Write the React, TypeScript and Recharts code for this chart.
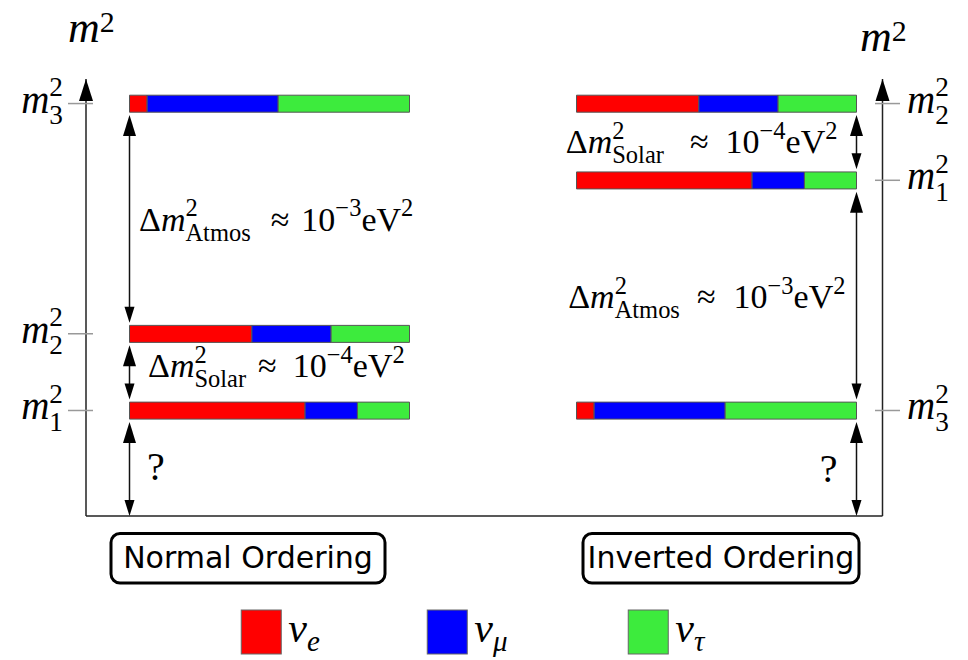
import React from 'react';
import { ComposedChart, Bar, XAxis, YAxis, ReferenceLine, ReferenceDot } from 'recharts';

const W = 968;
const H = 660;

// ---------------- data ----------------
const massStates = ['1', '2', '3'];
// flavour content of each mass eigenstate (fraction of bar length)
const nuE = [0.627, 0.437, 0.063];
const nuMu = [0.187, 0.283, 0.468];
const nuTau = [0.186, 0.28, 0.469];
// schematic m^2 levels of m1, m2, m3
const normalLevels = [1, 2, 5];
const invertedLevels = [4, 5, 1];
const M2_FLOOR = -0.375;
const M2_TOP = 5.32;
const flavourKeys = ['e', 'mu', 'tau'];
const flavourSubs = ['e', 'μ', 'τ'];
const flavourColors = ['#ff0000', '#0000ff', '#3deb3d'];
const orderingNames = ['Normal Ordering', 'Inverted Ordering'];
const splitNames = { atmos: 'Atmos', solar: 'Solar' };
const splitExps = { atmos: '−3', solar: '−4' };

// ---------------- layout ----------------
const PLOT = { left: 86, right: 882.5, top: 79, bottom: 516 };
const BAR_PX = 280;
const COL_X = [129.5, 576.5];
const xDomain = (x0: number): [number, number] => [(PLOT.left - x0) / BAR_PX, (PLOT.right - x0) / BAR_PX];
const X_N = xDomain(COL_X[0]);
const X_I = xDomain(COL_X[1]);
const BAR_SIZE = 17;
const BAR_HALF = BAR_SIZE / 2;
const SERIF = '"Liberation Serif", "Times New Roman", serif';
const SANS = '"DejaVu Sans", sans-serif';

const rows = massStates.map((s, k) => ({
  state: s,
  nLevel: normalLevels[k],
  iLevel: invertedLevels[k],
  e: nuE[k],
  mu: nuMu[k],
  tau: nuTau[k],
}));

type Tok = { t?: string; it?: boolean; dx?: number; sup?: string; sub?: string; subIt?: boolean };

function mathTspans(toks: Tok[], F: number, ssr = 0.72, upr = 0.42) {
  const s = ssr * F;
  const up = -upr * F;
  const down = 0.3 * F;
  let shift = 0;
  const out: any[] = [];
  toks.forEach((tk, i) => {
    if (tk.t !== undefined) {
      out.push(
        <tspan key={i} dx={tk.dx} dy={shift ? -shift : undefined} fontSize={F} fontStyle={tk.it ? 'italic' : 'normal'}>
          {tk.t}
        </tspan>
      );
      shift = 0;
    } else {
      if (tk.sup) {
        out.push(
          <tspan key={i + 'p'} dy={up - shift} fontSize={s} fontStyle="normal">
            {tk.sup}
          </tspan>
        );
        shift = up;
      }
      if (tk.sub) {
        out.push(
          <tspan
            key={i + 'b'}
            dx={tk.sup ? -0.5 * s * tk.sup.length : undefined}
            dy={down - shift}
            fontSize={s}
            fontStyle={tk.subIt ? 'italic' : 'normal'}
          >
            {tk.sub}
          </tspan>
        );
        shift = down;
      }
    }
  });
  return out;
}

function MassTick(props: any) {
  const { x, y, payload, side, levels } = props;
  const k = levels.indexOf(payload.value);
  if (k < 0) return null;
  const left = side === 'left';
  return (
    <g>
      <line x1={left ? x - 18 : x - 7.5} x2={left ? x + 7 : x + 17.5} y1={y} y2={y} stroke="#999" strokeWidth={1.5} />
      <text x={left ? x - 23 : x + 24.5} y={y + 9} textAnchor={left ? 'end' : 'start'} fontFamily={SERIF} fill="#000">
        {mathTspans([{ t: 'm', it: true }, { sup: '2', sub: massStates[k] }], 39, 0.7)}
      </text>
    </g>
  );
}

const arrowShape = (toFloor: boolean) => (p: any) => {
  const x = p.x1;
  const yTop = Math.min(p.y1, p.y2) + BAR_HALF + 3;
  const yBot = Math.max(p.y1, p.y2) - (toFloor ? 0 : BAR_HALF + 2.5);
  return (
    <g>
      <line x1={x} x2={x} y1={yTop + 12} y2={yBot - 8} stroke="#111" strokeWidth={1.5} />
      <path d={`M${x},${yTop} L${x - 6.5},${yTop + 21} L${x + 6.5},${yTop + 21} Z`} fill="#000" />
      <path d={`M${x},${yBot} L${x - 5},${yBot - 16} L${x + 5},${yBot - 16} Z`} fill="#000" />
    </g>
  );
};

type Gap = { top: number; bottom: number; kind: 'atmos' | 'solar' | 'unknown'; dx: number; dy: number; gA?: number; gB?: number };
const normalGaps: Gap[] = [
  { top: normalLevels[2], bottom: normalLevels[1], kind: 'atmos', dx: 9.5, dy: 12, gA: 20, gB: 12 },
  { top: normalLevels[1], bottom: normalLevels[0], kind: 'solar', dx: 18.5, dy: 5, gA: 12, gB: 16 },
  { top: normalLevels[0], bottom: M2_FLOOR, kind: 'unknown', dx: 17.5, dy: 17 },
];
const invertedGaps: Gap[] = [
  { top: invertedLevels[1], bottom: invertedLevels[0], kind: 'solar', dx: -19, dy: 11, gA: 26, gB: 17 },
  { top: invertedLevels[0], bottom: invertedLevels[2], kind: 'atmos', dx: -11, dy: 12.6, gA: 17, gB: 18 },
  { top: invertedLevels[2], bottom: M2_FLOOR, kind: 'unknown', dx: -19, dy: 19 },
];

const gapText = (g: Gap) => (p: any) => {
  const anchor = g.dx < 0 ? 'end' : 'start';
  if (g.kind === 'unknown') {
    return (
      <text x={p.cx + g.dx} y={p.cy + g.dy} textAnchor={anchor} fontFamily={SERIF} fontSize={40} fill="#000">
        ?
      </text>
    );
  }
  const toks: Tok[] = [
    { t: 'Δ' },
    { t: 'm', it: true },
    { sup: '2', sub: splitNames[g.kind] },
    { t: '≈', dx: g.gA },
    { t: '10', dx: g.gB },
    { sup: splitExps[g.kind] },
    { t: 'eV' },
    { sup: '2' },
  ];
  return (
    <text x={p.cx + g.dx} y={p.cy + g.dy} textAnchor={anchor} fontFamily={SERIF} fill="#000">
      {mathTspans(toks, 34)}
    </text>
  );
};

const axisTop = (labelDx: number, labelDy: number) => (p: any) => (
  <g>
    <path d={`M${p.cx},${p.cy} L${p.cx - 7},${p.cy + 22} L${p.cx + 7},${p.cy + 22} Z`} fill="#000" />
    <text x={p.cx + labelDx} y={p.cy + labelDy} fontFamily={SERIF} fill="#000">
      {mathTspans([{ t: 'm', it: true }, { sup: '2' }], 44, 0.68, 0.22)}
    </text>
  </g>
);

const orderingBox = (name: string, dx: number, w: number) => (p: any) => {
  const cx = p.cx + dx;
  return (
    <g>
      <rect x={cx - w / 2} y={p.cy + 17.5} width={w} height={49.5} rx={9} ry={9} fill="#fff" stroke="#000" strokeWidth={3} />
      <text x={cx} y={p.cy + 52} textAnchor="middle" fontFamily={SANS} fontSize={30} fill="#000">
        {name}
      </text>
    </g>
  );
};

const LEGEND_OFFSETS = [-243, -57, 144];
const legendShape = (p: any) => (
  <g>
    {flavourKeys.map((fk, j) => {
      const x = p.cx + LEGEND_OFFSETS[j];
      return (
        <g key={fk}>
          <rect x={x} y={p.cy + 94} width={40} height={44} fill={flavourColors[j]} stroke="#666" strokeWidth={1} />
          <text x={x + 47} y={p.cy + 126} fontFamily={SERIF} fill="#000">
            <tspan fontSize={42} fontStyle="italic">ν</tspan>
            <tspan fontSize={29} fontStyle="italic" dy={9}>{flavourSubs[j]}</tspan>
          </text>
        </g>
      );
    })}
  </g>
);

export default function App() {
  return (
    <div style={{ position: 'absolute', left: 0, top: 0, width: W, height: H, background: '#fff' }}>
      <ComposedChart
        width={W}
        height={H}
        layout="vertical"
        data={rows}
        margin={{ top: PLOT.top, right: 0, bottom: H - PLOT.bottom, left: 0 }}
      >
        <XAxis xAxisId="n" type="number" domain={X_N} allowDataOverflow hide />
        <XAxis xAxisId="i" type="number" domain={X_I} allowDataOverflow hide />
        <YAxis
          yAxisId="n"
          type="number"
          dataKey="nLevel"
          orientation="left"
          reversed
          width={PLOT.left}
          domain={[M2_FLOOR, M2_TOP]}
          allowDataOverflow
          ticks={normalLevels}
          interval={0}
          axisLine={{ stroke: '#222', strokeWidth: 1.5 }}
          tickLine={false}
          tickSize={0}
          tickMargin={0}
          tick={<MassTick side="left" levels={normalLevels} />}
        />
        <YAxis
          yAxisId="i"
          type="number"
          dataKey="iLevel"
          orientation="right"
          reversed
          width={W - PLOT.right}
          domain={[M2_FLOOR, M2_TOP]}
          allowDataOverflow
          ticks={invertedLevels}
          interval={0}
          axisLine={{ stroke: '#222', strokeWidth: 1.5 }}
          tickLine={false}
          tickSize={0}
          tickMargin={0}
          tick={<MassTick side="right" levels={invertedLevels} />}
        />
        <ReferenceLine xAxisId="n" yAxisId="n" y={M2_FLOOR} stroke="#222" strokeWidth={1.5} ifOverflow="visible" />
        {flavourKeys.map((fk, j) => (
          <Bar
            key={'n' + fk}
            dataKey={fk}
            stackId="n"
            xAxisId="n"
            yAxisId="n"
            fill={flavourColors[j]}
            stroke="#555"
            strokeWidth={1}
            barSize={BAR_SIZE}
            isAnimationActive={false}
          />
        ))}
        {flavourKeys.map((fk, j) => (
          <Bar
            key={'i' + fk}
            dataKey={fk}
            stackId="i"
            xAxisId="i"
            yAxisId="i"
            fill={flavourColors[j]}
            stroke="#555"
            strokeWidth={1}
            barSize={BAR_SIZE}
            isAnimationActive={false}
          />
        ))}
        {normalGaps.map((g, i) => (
          <ReferenceLine
            key={'na' + i}
            xAxisId="n"
            yAxisId="n"
            segment={[{ x: 0, y: g.top }, { x: 0, y: g.bottom }]}
            ifOverflow="visible"
            shape={arrowShape(g.kind === 'unknown')}
          />
        ))}
        {invertedGaps.map((g, i) => (
          <ReferenceLine
            key={'ia' + i}
            xAxisId="i"
            yAxisId="i"
            segment={[{ x: 1, y: g.top }, { x: 1, y: g.bottom }]}
            ifOverflow="visible"
            shape={arrowShape(g.kind === 'unknown')}
          />
        ))}
        {normalGaps.map((g, i) => (
          <ReferenceDot key={'nt' + i} xAxisId="n" yAxisId="n" x={0} y={(g.top + g.bottom) / 2} r={0} ifOverflow="visible" shape={gapText(g)} />
        ))}
        {invertedGaps.map((g, i) => (
          <ReferenceDot key={'it' + i} xAxisId="i" yAxisId="i" x={1} y={(g.top + g.bottom) / 2} r={0} ifOverflow="visible" shape={gapText(g)} />
        ))}
        <ReferenceDot xAxisId="n" yAxisId="n" x={X_N[0]} y={M2_TOP} r={0} ifOverflow="visible" shape={axisTop(-18, -37)} />
        <ReferenceDot xAxisId="i" yAxisId="i" x={X_I[1]} y={M2_TOP} r={0} ifOverflow="visible" shape={axisTop(-22.5, -28)} />
        <ReferenceDot xAxisId="n" yAxisId="n" x={0.5} y={M2_FLOOR} r={0} ifOverflow="visible" shape={orderingBox(orderingNames[0], -21.5, 274)} />
        <ReferenceDot xAxisId="i" yAxisId="i" x={0.5} y={M2_FLOOR} r={0} ifOverflow="visible" shape={orderingBox(orderingNames[1], 4.5, 276)} />
        <ReferenceDot
          xAxisId="n"
          yAxisId="n"
          x={(X_N[0] + X_N[1]) / 2}
          y={M2_FLOOR}
          r={0}
          ifOverflow="visible"
          shape={legendShape}
        />
      </ComposedChart>
    </div>
  );
}
